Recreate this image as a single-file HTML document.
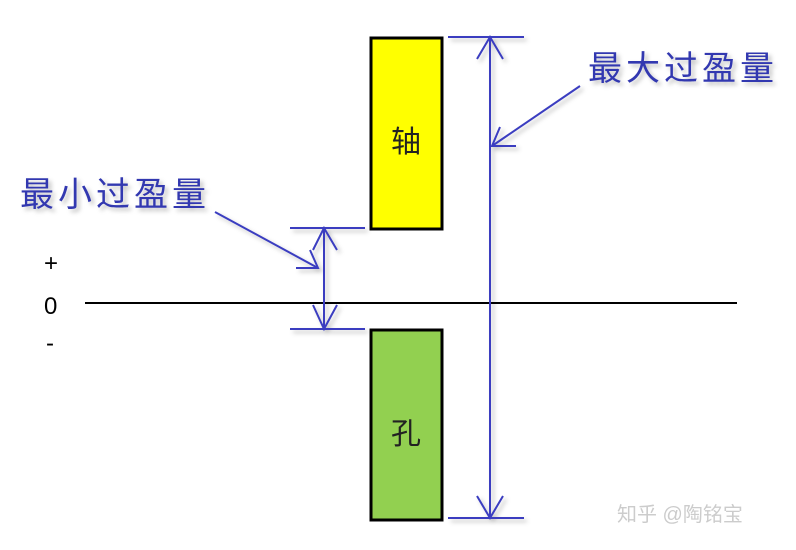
<!DOCTYPE html>
<html><head><meta charset="utf-8"><style>
body{margin:0;background:#fff;}
svg text{font-family:"Liberation Sans","Noto Sans CJK SC",sans-serif;}
</style></head><body>
<svg width="796" height="545" viewBox="0 0 796 545" xmlns="http://www.w3.org/2000/svg">
<defs><filter id="s" x="-20%" y="-20%" width="140%" height="140%"><feDropShadow dx="3" dy="3" stdDeviation="2" flood-color="#000" flood-opacity="0.25"/></filter></defs>
<line x1="85" y1="303" x2="737" y2="303" stroke="#000" stroke-width="2"/>
<rect x="371" y="38" width="71" height="191" fill="#ffff00" stroke="#000" stroke-width="3"/>
<rect x="371" y="330" width="71" height="190" fill="#92d050" stroke="#000" stroke-width="3"/>
<text x="406" y="152" font-size="30" text-anchor="middle" fill="#222">轴</text>
<text x="406" y="444" font-size="30" text-anchor="middle" fill="#222">孔</text>
<g stroke="#3a3ec0" stroke-width="2" fill="none" filter="url(#s)">
<line x1="448" y1="37" x2="524" y2="37"/>
<line x1="448" y1="518" x2="524" y2="518"/>
<line x1="490" y1="37" x2="490" y2="518"/>
<polyline points="477,59 490,37 503,59"/>
<polyline points="477,496 490,518 503,496"/>
<line x1="290" y1="228" x2="365" y2="228"/>
<line x1="290" y1="329" x2="365" y2="329"/>
<line x1="324" y1="228" x2="324" y2="329"/>
<polyline points="313,250 324,228 337,250"/>
<polyline points="313,305 324,329 337,305"/>
<line x1="580" y1="86" x2="492" y2="146"/>
<polyline points="500,127 492,146 516,146"/>
<line x1="215" y1="212" x2="318" y2="268"/>
<polyline points="296,268 318,268 310,250"/>
</g>
<g fill="#3338b0" font-size="34" letter-spacing="4" filter="url(#s)" style="font-family:'Noto Serif CJK SC',serif">
<text x="588" y="80">最大过盈量</text>
<text x="20" y="206">最小过盈量</text>
</g>
<text x="44" y="271" font-size="24" fill="#000">+</text>
<text x="44" y="314" font-size="24" fill="#000">0</text>
<text x="46" y="351" font-size="24" fill="#000">-</text>
<text x="617" y="521" font-size="20" fill="#ccc">知乎 @陶铭宝</text>
</svg>
</body></html>
